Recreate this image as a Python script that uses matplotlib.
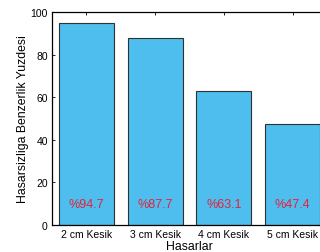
import matplotlib
matplotlib.use("Agg")
import matplotlib.pyplot as plt

categories = ["2 cm Kesik", "3 cm Kesik", "4 cm Kesik", "5 cm Kesik"]
values = [94.7, 87.7, 63.1, 47.4]
labels = ["%94.7", "%87.7", "%63.1", "%47.4"]
yticks = [0, 20, 40, 60, 80, 100]

plt.rcParams['font.family'] = ['Liberation Sans', 'DejaVu Sans']

fig = plt.figure(figsize=(3.2, 2.53), dpi=100)
ax = fig.add_axes([0.1625, 0.107, 0.859, 0.842])
x = [1, 2, 3, 4]
ax.bar(x, values, width=0.8, color='#4DBEEE', edgecolor='#303030', linewidth=0.8, zorder=2)
for xi, lab in zip(x, labels):
    ax.text(xi, 10, lab, color='#E8203A', ha='center', va='center', fontsize=9, zorder=3)
ax.set_xlim(0.5, 4.5)
ax.set_ylim(0, 100)
ax.set_yticks(yticks)
ax.set_xticks(x)
ax.set_xticklabels(categories)
ax.tick_params(direction='in', length=2.5, width=0.6, labelsize=7.5, top=True, right=True, pad=3)
for s in ax.spines.values():
    s.set_linewidth(0.9)
ax.set_ylabel("Hasarsizliga Benzerlik Yuzdesi", fontsize=8.8, labelpad=1)
ax.set_xlabel("Hasarlar", fontsize=8.8, labelpad=0.5)
fig.savefig("out.png", dpi=100)
